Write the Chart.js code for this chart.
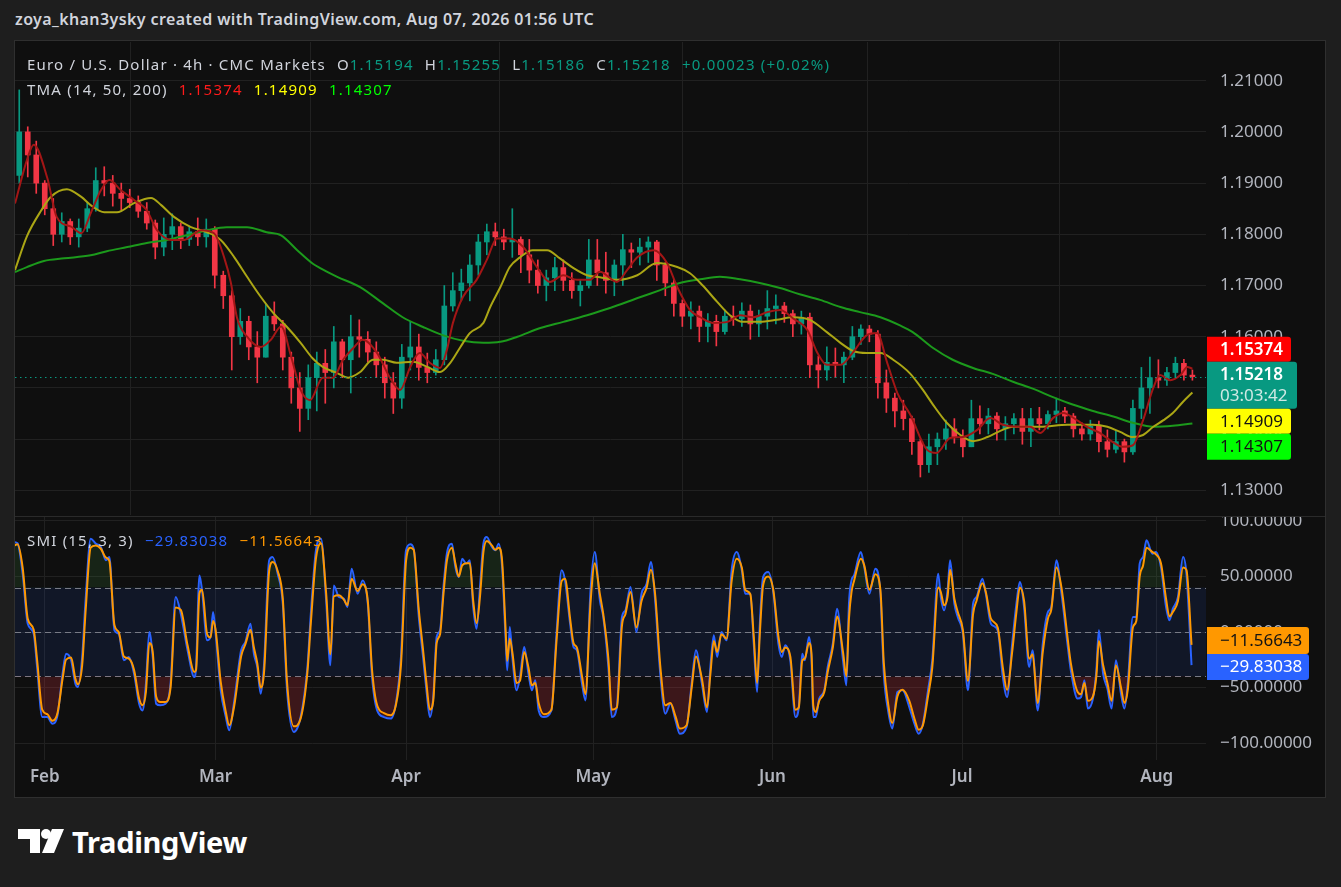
<!DOCTYPE html>
<html lang="en">

<head>
  <meta charset="UTF-8">
  <title>EURUSD 4h | TMA + SMI</title>
  <script src="https://cdn.jsdelivr.net/npm/chart.js"></script>
  <style>
    body { margin: 0; width: 1341px; height: 887px; background: #1e1e1e; overflow: hidden; font-family: "Noto Sans", sans-serif; position: relative; }
    .titulo { position: absolute; left: 15px; top: 8px; color: #d1d4dc; font-size: 16px; font-weight: 600; letter-spacing: 0.4px; white-space: nowrap; }
    #painel { position: absolute; left: 14px; top: 40px; width: 1310px; height: 756px; border: 1px solid #2f2f2f; background: #0f0f0f; }
    #painel canvas { position: absolute; left: 0; }
    #c_preco { top: 0; }
    #c_smi { top: 476px; }
    .divisor { position: absolute; left: 0; top: 475px; width: 1310px; height: 1px; background: #2a2a2a; }
    .legenda { position: absolute; left: 12px; color: #d1d4dc; font-size: 15px; letter-spacing: 1.2px; line-height: 22px; white-space: nowrap; z-index: 2; }
    .legenda .v { margin-left: 6px; }
    .verde { color: #089981; }
    .logo { position: absolute; left: 18px; top: 826px; }
    .logo_texto { position: absolute; left: 72px; top: 822px; color: #ffffff; font-size: 29px; font-weight: 700; letter-spacing: -0.3px; }
  </style>
</head>

<body>
  <div class="titulo">zoya_khan3ysky created with TradingView.com, Aug 07, 2026 01:56 UTC</div>

  <div id="painel">
    <canvas id="c_preco" width="1310" height="475"></canvas>
    <div class="divisor"></div>
    <canvas id="c_smi" width="1310" height="280"></canvas>

    <div class="legenda" style="top:12px">Euro / U.S. Dollar · 4h · CMC Markets
      <span class="v">O<span class="verde">1.15194</span></span>
      <span class="v">H<span class="verde">1.15255</span></span>
      <span class="v">L<span class="verde">1.15186</span></span>
      <span class="v">C<span class="verde">1.15218</span></span>
      <span class="v verde">+0.00023 (+0.02%)</span>
    </div>
    <div class="legenda" style="top:37px">TMA (14, 50, 200)
      <span class="v" style="color:#ff1a1a">1.15374</span>
      <span class="v" style="color:#ffff00">1.14909</span>
      <span class="v" style="color:#00ff00">1.14307</span>
    </div>
    <div class="legenda" style="top:488px">SMI (15, 3, 3)
      <span class="v" style="color:#2962ff">−29.83038</span>
      <span class="v" style="color:#ff9800">−11.56643</span>
    </div>
  </div>

  <svg class="logo" width="48" height="30" viewBox="0 0 48 30">
    <polygon points="0,3 22,3 22,27 12,27 12,13 0,13" fill="#ffffff"/>
    <circle cx="28" cy="8" r="5" fill="#ffffff"/>
    <polygon points="34,3 46,3 36,27 24,27" fill="#ffffff"/>
  </svg>
  <div class="logo_texto">TradingView</div>

<script>
// candles: um candle por dia util (x = indice do dia)
const aberturas = [
  1.1915, 1.2000, 1.1955, 1.1900, 1.1850, 1.1800, 1.1825, 1.1795, 1.1812, 1.1850,
  1.1905, 1.1900, 1.1880, 1.1870, 1.1862, 1.1845, 1.1822, 1.1775, 1.1800, 1.1815,
  1.1790, 1.1805, 1.1795, 1.1810, 1.1720, 1.1680, 1.1600, 1.1630, 1.1580, 1.1560,
  1.1640, 1.1625, 1.1560, 1.1500, 1.1460, 1.1520, 1.1548, 1.1530, 1.1590, 1.1555,
  1.1600, 1.1595, 1.1570, 1.1545, 1.1510, 1.1480, 1.1560, 1.1580, 1.1540, 1.1530,
  1.1555, 1.1660, 1.1690, 1.1705, 1.1740, 1.1785, 1.1805, 1.1795, 1.1785, 1.1790,
  1.1760, 1.1730, 1.1700, 1.1715, 1.1735, 1.1710, 1.1690, 1.1700, 1.1750, 1.1725,
  1.1710, 1.1740, 1.1770, 1.1765, 1.1775, 1.1785, 1.1740, 1.1705, 1.1665, 1.1640,
  1.1650, 1.1620, 1.1630, 1.1610, 1.1640, 1.1635, 1.1650, 1.1625, 1.1640, 1.1655,
  1.1660, 1.1645, 1.1625, 1.1638, 1.1545, 1.1535, 1.1550, 1.1545, 1.1560, 1.1600,
  1.1615, 1.1605, 1.1510, 1.1480, 1.1455, 1.1440, 1.1395, 1.1350, 1.1385, 1.1400,
  1.1420, 1.1405, 1.1385, 1.1440, 1.1430, 1.1445, 1.1420, 1.1430, 1.1440, 1.1415,
  1.1440, 1.1430, 1.1448, 1.1455, 1.1445, 1.1420, 1.1410, 1.1425, 1.1395, 1.1380,
  1.1395, 1.1375, 1.1460, 1.1500, 1.1520, 1.1515, 1.1530, 1.1548, 1.1525
];
const maximas = [
  1.2082, 1.2010, 1.1982, 1.1905, 1.1870, 1.1842, 1.1830, 1.1830, 1.1862, 1.1930,
  1.1932, 1.1915, 1.1900, 1.1888, 1.1875, 1.1862, 1.1828, 1.1832, 1.1840, 1.1822,
  1.1815, 1.1832, 1.1830, 1.1815, 1.1728, 1.1690, 1.1655, 1.1640, 1.1610, 1.1665,
  1.1668, 1.1632, 1.1570, 1.1530, 1.1545, 1.1570, 1.1575, 1.1620, 1.1595, 1.1642,
  1.1633, 1.1610, 1.1590, 1.1560, 1.1530, 1.1585, 1.1630, 1.1605, 1.1568, 1.1575,
  1.1700, 1.1725, 1.1732, 1.1760, 1.1800, 1.1820, 1.1822, 1.1810, 1.1850, 1.1795,
  1.1790, 1.1750, 1.1730, 1.1755, 1.1750, 1.1725, 1.1712, 1.1790, 1.1790, 1.1765,
  1.1750, 1.1800, 1.1783, 1.1792, 1.1795, 1.1788, 1.1745, 1.1712, 1.1672, 1.1668,
  1.1660, 1.1645, 1.1642, 1.1652, 1.1660, 1.1666, 1.1662, 1.1652, 1.1690, 1.1682,
  1.1667, 1.1652, 1.1650, 1.1646, 1.1562, 1.1580, 1.1578, 1.1570, 1.1620, 1.1623,
  1.1622, 1.1612, 1.1535, 1.1490, 1.1476, 1.1445, 1.1400, 1.1410, 1.1412, 1.1437,
  1.1440, 1.1418, 1.1476, 1.1465, 1.1460, 1.1452, 1.1444, 1.1450, 1.1460, 1.1460,
  1.1462, 1.1455, 1.1480, 1.1462, 1.1450, 1.1432, 1.1437, 1.1435, 1.1418, 1.1415,
  1.1400, 1.1476, 1.1540, 1.1560, 1.1555, 1.1540, 1.1560, 1.1556, 1.1535
];
const minimas = [
  1.1900, 1.1912, 1.1880, 1.1838, 1.1778, 1.1785, 1.1780, 1.1775, 1.1805, 1.1845,
  1.1875, 1.1855, 1.1848, 1.1852, 1.1833, 1.1810, 1.1752, 1.1758, 1.1770, 1.1772,
  1.1778, 1.1778, 1.1775, 1.1695, 1.1655, 1.1535, 1.1585, 1.1555, 1.1510, 1.1560,
  1.1612, 1.1535, 1.1470, 1.1415, 1.1438, 1.1455, 1.1470, 1.1500, 1.1520, 1.1490,
  1.1560, 1.1550, 1.1520, 1.1480, 1.1450, 1.1460, 1.1535, 1.1515, 1.1510, 1.1525,
  1.1545, 1.1650, 1.1670, 1.1670, 1.1720, 1.1760, 1.1778, 1.1770, 1.1755, 1.1725,
  1.1705, 1.1685, 1.1670, 1.1690, 1.1690, 1.1675, 1.1660, 1.1695, 1.1700, 1.1685,
  1.1680, 1.1700, 1.1735, 1.1740, 1.1745, 1.1710, 1.1680, 1.1640, 1.1620, 1.1615,
  1.1590, 1.1590, 1.1582, 1.1605, 1.1622, 1.1620, 1.1595, 1.1600, 1.1615, 1.1625,
  1.1628, 1.1600, 1.1605, 1.1520, 1.1500, 1.1515, 1.1520, 1.1510, 1.1555, 1.1585,
  1.1590, 1.1480, 1.1452, 1.1424, 1.1418, 1.1370, 1.1326, 1.1335, 1.1350, 1.1380,
  1.1392, 1.1365, 1.1385, 1.1410, 1.1410, 1.1398, 1.1398, 1.1410, 1.1390, 1.1385,
  1.1418, 1.1420, 1.1432, 1.1432, 1.1404, 1.1398, 1.1398, 1.1375, 1.1365, 1.1373,
  1.1355, 1.1370, 1.1440, 1.1450, 1.1500, 1.1505, 1.1520, 1.1515, 1.1515
];
const fechamentos = [
  1.2000, 1.1955, 1.1900, 1.1850, 1.1800, 1.1825, 1.1795, 1.1812, 1.1850, 1.1905,
  1.1900, 1.1880, 1.1870, 1.1862, 1.1845, 1.1822, 1.1775, 1.1800, 1.1815, 1.1790,
  1.1805, 1.1795, 1.1810, 1.1720, 1.1680, 1.1600, 1.1630, 1.1580, 1.1560, 1.1640,
  1.1625, 1.1560, 1.1500, 1.1460, 1.1520, 1.1548, 1.1530, 1.1590, 1.1555, 1.1600,
  1.1595, 1.1570, 1.1545, 1.1510, 1.1480, 1.1560, 1.1580, 1.1540, 1.1530, 1.1555,
  1.1660, 1.1690, 1.1705, 1.1740, 1.1785, 1.1805, 1.1795, 1.1785, 1.1790, 1.1760,
  1.1730, 1.1700, 1.1715, 1.1735, 1.1710, 1.1690, 1.1700, 1.1750, 1.1725, 1.1710,
  1.1740, 1.1770, 1.1765, 1.1775, 1.1785, 1.1740, 1.1705, 1.1665, 1.1640, 1.1650,
  1.1620, 1.1630, 1.1610, 1.1640, 1.1635, 1.1650, 1.1625, 1.1640, 1.1655, 1.1660,
  1.1645, 1.1625, 1.1638, 1.1545, 1.1535, 1.1550, 1.1545, 1.1560, 1.1600, 1.1615,
  1.1605, 1.1510, 1.1480, 1.1455, 1.1440, 1.1395, 1.1350, 1.1385, 1.1400, 1.1420,
  1.1405, 1.1385, 1.1440, 1.1430, 1.1445, 1.1420, 1.1430, 1.1440, 1.1415, 1.1440,
  1.1430, 1.1448, 1.1455, 1.1445, 1.1420, 1.1410, 1.1425, 1.1395, 1.1380, 1.1395,
  1.1375, 1.1460, 1.1500, 1.1520, 1.1515, 1.1530, 1.1548, 1.1525, 1.15218
];

// medias TMA: [dia, valor]
const tmaRapida = [
  [-0.5, 1.1860], [0.9, 1.1945], [1.7, 1.1975], [3.3, 1.1910], [4.4, 1.1834], [6.1, 1.1815], [7.3, 1.1802],
  [8.4, 1.1841], [9.6, 1.1886], [10.6, 1.1906], [11.9, 1.1887], [13.5, 1.1867], [15.0, 1.1847], [16.2, 1.1808],
  [17.9, 1.1789], [19.4, 1.1789], [21.4, 1.1808], [22.9, 1.1802], [24.1, 1.1755], [24.9, 1.1705], [25.6, 1.1638],
  [26.8, 1.1600], [28.4, 1.1580], [29.6, 1.1594], [30.8, 1.1620], [32.0, 1.1560], [33.1, 1.1496], [34.2, 1.1476],
  [35.7, 1.1520], [36.9, 1.1520], [38.1, 1.1555], [39.3, 1.1578], [40.4, 1.1594], [42.1, 1.1568], [43.6, 1.1520],
  [44.8, 1.1496], [46.0, 1.1541], [47.1, 1.1568], [48.3, 1.1549], [49.5, 1.1539], [50.3, 1.1574], [51.0, 1.1626],
  [52.2, 1.1678], [53.8, 1.1711], [55.0, 1.1750], [56.2, 1.1792], [57.7, 1.1792], [59.3, 1.1775], [60.9, 1.1736],
  [62.4, 1.1707], [64.0, 1.1720], [65.6, 1.1711], [67.1, 1.1711], [68.3, 1.1727], [70.3, 1.1707], [71.5, 1.1730],
  [72.7, 1.1755], [74.6, 1.1769], [76.2, 1.1744], [77.4, 1.1697], [78.9, 1.1652], [80.1, 1.1638], [81.6, 1.1627],
  [83.3, 1.1629], [84.8, 1.1642], [86.3, 1.1638], [88.0, 1.1648], [89.5, 1.1652], [91.0, 1.1636], [92.7, 1.1613],
  [93.9, 1.1568], [95.0, 1.1545], [96.6, 1.1545], [98.1, 1.1570], [99.7, 1.1603], [100.9, 1.1607], [102.1, 1.1549],
  [103.3, 1.1490], [104.8, 1.1448], [106.8, 1.1379], [107.9, 1.1373], [109.5, 1.1402], [111.0, 1.1404], [112.7, 1.1418],
  [114.2, 1.1441], [115.7, 1.1428], [117.4, 1.1424], [118.9, 1.1424], [120.1, 1.1412], [121.6, 1.1441], [122.8, 1.1451],
  [124.4, 1.1437], [125.6, 1.1424], [127.1, 1.1412], [128.3, 1.1398], [129.8, 1.1385], [131.0, 1.1388], [132.2, 1.1437],
  [133.4, 1.1500], [134.2, 1.1525], [135.4, 1.1515], [136.6, 1.1525], [137.4, 1.1541], [138.0, 1.15374]
];
const tmaMedia = [
  [-0.5, 1.1730], [0.9, 1.1796], [2.6, 1.1847], [3.7, 1.1873], [5.6, 1.1888], [7.3, 1.1873], [8.4, 1.1857],
  [10.0, 1.1843], [11.5, 1.1843], [13.5, 1.1861], [15.5, 1.1871], [16.7, 1.1857], [18.2, 1.1834], [20.2, 1.1814],
  [22.1, 1.1804], [23.7, 1.1789], [25.3, 1.1755], [26.8, 1.1717], [28.4, 1.1678], [29.9, 1.1646], [31.5, 1.1619],
  [33.1, 1.1588], [34.5, 1.1558], [35.7, 1.1541], [37.4, 1.1529], [38.7, 1.1520], [40.1, 1.1531], [41.6, 1.1555],
  [42.8, 1.1555], [44.4, 1.1549], [46.3, 1.1551], [48.0, 1.1541], [49.5, 1.1531], [50.7, 1.1549], [51.9, 1.1580],
  [53.0, 1.1607], [54.6, 1.1627], [55.4, 1.1658], [56.6, 1.1697], [57.7, 1.1736], [58.9, 1.1755], [60.4, 1.1769],
  [62.1, 1.1769], [63.6, 1.1753], [65.2, 1.1734], [66.8, 1.1720], [68.3, 1.1716], [70.3, 1.1711], [72.7, 1.1720],
  [75.0, 1.1744], [77.4, 1.1736], [78.9, 1.1724], [80.4, 1.1700], [82.1, 1.1668], [83.6, 1.1642], [85.1, 1.1629],
  [87.1, 1.1629], [89.1, 1.1633], [91.0, 1.1638], [93.0, 1.1633], [95.0, 1.1609], [96.6, 1.1588], [98.1, 1.1572],
  [99.7, 1.1568], [101.3, 1.1568], [102.8, 1.1555], [104.8, 1.1528], [106.3, 1.1496], [107.5, 1.1467], [109.1, 1.1432],
  [110.7, 1.1408], [112.2, 1.1396], [113.9, 1.1404], [115.4, 1.1416], [116.9, 1.1424], [120.1, 1.1424], [123.3, 1.1428],
  [126.3, 1.1428], [128.0, 1.1424], [129.5, 1.1414], [131.0, 1.1404], [132.2, 1.1408], [133.4, 1.1424], [134.6, 1.1437],
  [135.7, 1.1451], [136.9, 1.1473], [138.0, 1.14909]
];
const tmaLonga = [
  [-0.5, 1.1726], [0.9, 1.1736], [2.9, 1.1748], [5.3, 1.1753], [8.4, 1.1759], [10.3, 1.1767], [12.7, 1.1775],
  [15.0, 1.1783], [17.4, 1.1789], [19.7, 1.1798], [22.1, 1.1808], [24.4, 1.1814], [26.8, 1.1814], [29.1, 1.1804],
  [30.8, 1.1798], [32.7, 1.1769], [34.5, 1.1743], [35.4, 1.1734], [37.4, 1.1717], [40.1, 1.1697], [42.8, 1.1665],
  [45.1, 1.1638], [47.5, 1.1619], [49.8, 1.1603], [52.2, 1.1592], [54.6, 1.1588], [56.6, 1.1590], [58.6, 1.1600],
  [61.3, 1.1617], [64.0, 1.1629], [66.8, 1.1642], [69.5, 1.1656], [73.0, 1.1677], [75.4, 1.1691], [77.7, 1.1705],
  [80.1, 1.1712], [82.4, 1.1717], [84.8, 1.1712], [87.1, 1.1705], [89.5, 1.1695], [91.8, 1.1683], [94.2, 1.1672],
  [96.6, 1.1658], [98.9, 1.1648], [101.3, 1.1638], [103.6, 1.1622], [105.1, 1.1609], [107.5, 1.1578], [109.8, 1.1555],
  [112.2, 1.1539], [114.6, 1.1527], [116.9, 1.1512], [119.3, 1.1498], [121.6, 1.1482], [124.0, 1.1467], [126.3, 1.1455],
  [128.7, 1.1444], [131.0, 1.1432], [133.4, 1.1424], [135.7, 1.1426], [138.0, 1.14307]
];

// SMI (linha azul) e sinal (laranja): [dia, valor]
const smiLinha = [
  [-0.6, 81], [-0.2, 80], [0.4, 52.5], [1.0, 7.5], [1.7, -1.5], [2.1, -31.5], [2.7, -76.6], [3.3, -76.6], [3.9, -82.6],
  [4.5, -75], [5.1, -37.5], [5.5, -19.5], [6.1, -25.5], [6.6, -46.5], [6.9, -49.5], [7.4, -22.5], [7.8, 28.5], [8.4, 84],
  [9.0, 79.6], [9.6, 76.6], [10.2, 64.6], [10.6, 67.6], [11.2, 1.5], [11.7, -1.5], [12.3, -25.5], [12.9, -22.5],
  [13.5, -37.5], [14.1, -64.6], [14.5, -70.6], [14.9, -46.5], [15.3, 0], [15.7, -22.5], [16.1, -64.6], [16.6, -66],
  [17.2, -64.6], [17.8, -46.5], [18.4, 31.5], [19.0, 16.5], [19.8, -16.5], [20.6, -40.5], [20.8, -31.5], [21.2, 51],
  [21.5, 37.5], [22.1, -7.5], [22.5, -4.5], [22.8, 18], [23.1, -1.5], [23.7, -52.5], [24.3, -76.6], [24.7, -88.6],
  [25.3, -61.6], [26.1, -16.5], [26.6, -9], [27.2, 7.5], [27.6, -19.5], [28.0, -31.5], [28.4, -55.6], [28.8, -28.5],
  [29.4, 64.6], [29.8, 67.6], [30.4, 52.5], [31.0, 25.5], [31.5, -52.5], [32.3, -90], [33.1, -76.6], [33.9, -31.5],
  [34.3, 16.5], [34.9, 73.6], [35.5, 84], [36.1, 28.5], [36.6, -30], [37.0, 42], [37.6, 31.5], [38.2, 30], [38.6, 22.5],
  [39.1, 57], [39.8, 34.5], [40.4, 46.5], [41.0, 25.5], [41.5, -40.5], [42.1, -70.6], [42.9, -76.6], [43.7, -78],
  [44.3, -64.6], [44.9, -22.5], [45.5, 73.6], [46.0, 79], [46.4, 75], [47.0, 13.5], [47.5, -22.5], [47.9, -52.5],
  [48.3, -76.6], [48.7, -58.6], [49.1, -4.5], [49.5, 1.5], [49.9, 40.5], [50.3, 70.6], [50.9, 79.6], [51.3, 58.6],
  [51.7, 49.5], [52.1, 66], [52.6, 61.6], [53.0, 64.6], [53.4, 22.5], [53.8, 3], [54.2, 40.5], [54.6, 79.6], [55.0, 85.6],
  [55.6, 76.6], [56.0, 73.6], [56.4, 79.6], [56.8, 58.6], [57.2, -4.5], [57.4, -34.5], [57.7, 4.5], [58.0, -22.5],
  [58.5, -52.5], [58.9, -40.5], [59.4, -13.5], [59.9, -37.5], [60.3, -52.5], [60.7, -43.5], [61.1, -70.6], [61.7, -76.6],
  [62.6, -70.6], [63.2, -1.5], [63.8, 55.6], [64.2, 46.5], [64.8, 7.5], [65.2, -13.5], [65.6, -16.5], [66.2, -46.5],
  [66.6, -61.6], [67.2, 37.5], [67.7, 72], [68.3, 28.5], [68.7, 13.5], [69.3, -31.5], [69.7, -76.6], [70.3, -67.6],
  [70.9, 13.5], [71.3, 19.5], [71.9, 40.5], [72.6, 0], [73.2, 34.5], [73.8, 43.5], [74.3, 63], [74.8, 28.5], [75.4, -37.5],
  [76.0, -73.6], [76.6, -64.6], [77.2, -79.6], [77.7, -91.6], [78.5, -85.6], [79.1, -46.5], [79.6, -16.5], [80.3, -46.5],
  [80.9, -72], [81.3, -31.5], [81.7, -3], [82.1, -22.5], [82.6, 0], [83.2, -7.5], [83.8, 55.6], [84.4, 72], [85.0, 55.6],
  [85.4, 34.5], [86.0, 34.5], [86.4, -10.5], [86.8, -54], [87.1, 4.5], [87.5, 49.5], [88.1, 54], [88.7, 36], [89.3, -10.5],
  [89.7, -22.5], [90.1, -12], [90.7, -25.5], [91.3, -76.6], [91.7, -67.6], [92.1, -19.5], [92.4, -25.5], [92.9, -4.5],
  [93.2, -25.5], [93.4, -76.6], [93.7, -76.6], [94.1, -60], [94.7, -52.5], [95.1, -31.5], [95.7, -10.5], [96.2, 21],
  [96.9, -25.5], [97.3, -48], [97.6, 25.5], [97.9, 46.5], [98.2, 51], [99.0, 72], [99.4, 58.6], [100.0, 34.5], [100.7, 57],
  [101.3, 34.5], [101.7, -37.5], [102.2, -70.6], [102.7, -87], [103.3, -54], [103.9, -52.5], [104.7, -67.6], [105.3, -82.6],
  [105.8, -91.6], [106.3, -82.6], [106.9, -52.5], [107.4, -25.5], [108.1, 52.5], [108.4, 31.5], [108.8, 19.5], [109.2, 37.5],
  [109.5, 64.6], [110.0, 25.5], [110.4, 13.5], [111.0, -1.5], [111.6, -52.5], [112.2, 25.5], [112.6, 31.5], [113.3, 48],
  [113.7, 34.5], [114.3, 7.5], [115.1, 1.5], [115.7, -40.5], [116.2, -58.6], [116.8, -10.5], [117.3, 25.5], [117.7, 45],
  [118.2, 22.5], [118.8, -31.5], [119.2, -16.5], [119.8, -70.6], [120.4, -10.5], [121.0, 18], [121.4, 22.5], [122.0, 64.6],
  [122.6, 34.5], [123.3, -10.5], [123.7, -34.5], [124.5, -60], [124.9, -58.6], [125.3, -43.5], [125.7, -69], [126.3, -60],
  [126.7, -34.5], [127.0, 1.5], [127.5, -37.5], [128.0, -51], [128.5, -69], [129.0, -25.5], [129.6, -55.6], [130.0, -69],
  [130.4, -46.5], [131.0, 13.5], [131.4, 13.5], [131.8, 61.6], [132.2, 67.6], [132.6, 82.6], [133.3, 70.6], [133.7, 72],
  [134.3, 58.6], [134.9, 22.5], [135.3, 10.5], [135.7, 21], [136.3, 31.5], [136.9, 67.6], [137.3, 52.5], [137.9, -29.83038]
];
const smiSinal = [
  [-0.6, 78], [-0.2, 79], [0.4, 58], [1.0, 12], [1.7, 2], [2.1, -25], [2.7, -70], [3.3, -74], [3.9, -80], [4.5, -73],
  [5.1, -42], [5.5, -25], [6.1, -23], [6.6, -42], [6.9, -47], [7.4, -30], [7.8, 18], [8.4, 76], [9.0, 78], [9.6, 75],
  [10.2, 67], [10.6, 64], [11.2, 6], [11.7, 0], [12.3, -22], [12.9, -24], [13.5, -34], [14.1, -60], [14.5, -66],
  [14.9, -54], [15.3, -10], [15.7, -18], [16.1, -58], [16.6, -63], [17.2, -63], [17.8, -50], [18.4, 22], [19.0, 20],
  [19.8, -12], [20.6, -36], [20.8, -34], [21.2, 35], [21.5, 38], [22.1, -2], [22.5, -5], [22.8, 10], [23.1, 2],
  [23.7, -45], [24.3, -72], [24.7, -84], [25.3, -66], [26.1, -22], [26.6, -11], [27.2, 2], [27.6, -14], [28.0, -28],
  [28.4, -50], [28.8, -36], [29.4, 55], [29.8, 63], [30.4, 55], [31.0, 30], [31.5, -45], [32.3, -85], [33.1, -78],
  [33.9, -36], [34.3, 8], [34.9, 66], [35.5, 80], [36.1, 35], [36.6, -20], [37.0, 32], [37.6, 33], [38.2, 29], [38.6, 24],
  [39.1, 48], [39.8, 37], [40.4, 43], [41.0, 28], [41.5, -34], [42.1, -66], [42.9, -73], [43.7, -75], [44.3, -66],
  [44.9, -30], [45.5, 64], [46.0, 76], [46.4, 74], [47.0, 20], [47.5, -16], [47.9, -46], [48.3, -70], [48.7, -62],
  [49.1, -10], [49.5, -2], [49.9, 34], [50.3, 64], [50.9, 76], [51.3, 62], [51.7, 50], [52.1, 60], [52.6, 62], [53.0, 62],
  [53.4, 28], [53.8, 8], [54.2, 32], [54.6, 72], [55.0, 82], [55.6, 78], [56.0, 74], [56.4, 76], [56.8, 64], [57.2, 4],
  [57.4, -26], [57.7, -6], [58.0, -18], [58.5, -46], [58.9, -44], [59.4, -18], [59.9, -32], [60.3, -48], [60.7, -46],
  [61.1, -64], [61.7, -74], [62.6, -70], [63.2, -8], [63.8, 46], [64.2, 48], [64.8, 12], [65.2, -10], [65.6, -14],
  [66.2, -40], [66.6, -56], [67.2, 26], [67.7, 62], [68.3, 34], [68.7, 16], [69.3, -24], [69.7, -70], [70.3, -68],
  [70.9, 6], [71.3, 16], [71.9, 36], [72.6, 4], [73.2, 28], [73.8, 40], [74.3, 56], [74.8, 34], [75.4, -30], [76.0, -66],
  [76.6, -64], [77.2, -76], [77.7, -87], [78.5, -84], [79.1, -50], [79.6, -22], [80.3, -42], [80.9, -68], [81.3, -38],
  [81.7, -8], [82.1, -18], [82.6, -2], [83.2, -6], [83.8, 46], [84.4, 66], [85.0, 58], [85.4, 38], [86.0, 34], [86.4, -4],
  [86.8, -46], [87.1, -4], [87.5, 42], [88.1, 50], [88.7, 38], [89.3, -4], [89.7, -18], [90.1, -14], [90.7, -22],
  [91.3, -70], [91.7, -68], [92.1, -26], [92.4, -24], [92.9, -10], [93.2, -20], [93.4, -66], [93.7, -72], [94.1, -62],
  [94.7, -54], [95.1, -36], [95.7, -14], [96.2, 14], [96.9, -18], [97.3, -40], [97.6, 12], [97.9, 36], [98.2, 46],
  [99.0, 66], [99.4, 60], [100.0, 38], [100.7, 52], [101.3, 38], [101.7, -28], [102.2, -64], [102.7, -82], [103.3, -58],
  [103.9, -52], [104.7, -62], [105.3, -78], [105.8, -88], [106.3, -84], [106.9, -58], [107.4, -32], [108.1, 40],
  [108.4, 36], [108.8, 24], [109.2, 32], [109.5, 56], [110.0, 30], [110.4, 18], [111.0, 2], [111.6, -44], [112.2, 16],
  [112.6, 28], [113.3, 44], [113.7, 36], [114.3, 12], [115.1, 4], [115.7, -32], [116.2, -52], [116.8, -18], [117.3, 18],
  [117.7, 40], [118.2, 28], [118.8, -24], [119.2, -20], [119.8, -64], [120.4, -18], [121.0, 12], [121.4, 20], [122.0, 58],
  [122.6, 40], [123.3, -4], [123.7, -28], [124.5, -54], [124.9, -56], [125.3, -46], [125.7, -62], [126.3, -58],
  [126.7, -40], [127.0, -8], [127.5, -30], [128.0, -46], [128.5, -62], [129.0, -30], [129.6, -50], [130.0, -64],
  [130.4, -52], [131.0, 4], [131.4, 10], [131.8, 50], [132.2, 60], [132.6, 76], [133.3, 72], [133.7, 70], [134.3, 62],
  [134.9, 30], [135.3, 14], [135.7, 18], [136.3, 28], [136.9, 58], [137.3, 56], [137.9, -11.56643]
];

const mesesNomes = ['Feb', 'Mar', 'Apr', 'May', 'Jun', 'Jul', 'Aug'];
const mesesDias = [3, 23.1, 45.5, 67.5, 88.6, 110.9, 133.8];
const precoTicks = [1.13, 1.14, 1.15, 1.16, 1.17, 1.18, 1.19, 1.20, 1.21];
const smiTicks = [100, 50, 0, -50, -100];
const smiNiveis = [40, 0, -40];

const precoAtual = 1.15218;
const tempoRestante = '03:03:42';
const ultRapida = 1.15374;
const ultMedia = 1.14909;
const ultLonga = 1.14307;
const ultSmi = -29.83038;
const ultSinal = -11.56643;

// ---------------------------------------------------------------
const corAlta = '#089981';
const corBaixa = '#f23645';
const corGrade = '#212121';
const corTexto = '#b2b5be';
const fonteEixo = { family: 'Noto Sans', size: 17 };

const pares = arr => arr.map(p => ({ x: p[0], y: p[1] }));
const pavios = aberturas.map((a, i) => ({ x: i, y: [minimas[i], maximas[i]] }));
const corpos = aberturas.map((a, i) => ({ x: i, y: [a, fechamentos[i]] }));
const coresCandle = aberturas.map((a, i) => fechamentos[i] >= a ? corAlta : corBaixa);

const menos = v => (v < 0 ? '−' : '') + Math.abs(v).toFixed(5);

// tira o espaco extra que o chart.js reserva pros rotulos nas pontas
function semSobra(s) {
  s.paddingTop = 0; s.paddingBottom = 0; s.paddingLeft = 0; s.paddingRight = 0;
}

function eixoX(mostrar) {
  return {
    type: 'linear', min: -0.5, max: 139.6, offset: false,
    afterBuildTicks: s => { s.ticks = mesesDias.map(v => ({ value: v })); },
    afterFit: s => { s.height = mostrar ? 37 : 0; semSobra(s); },
    grid: { color: corGrade, drawTicks: false },
    border: { display: false },
    ticks: {
      display: mostrar, color: corTexto, padding: 7, font: { family: 'Noto Sans', size: 17, weight: '600' },
      maxRotation: 0, autoSkip: false,
      callback: v => mesesNomes[mesesDias.indexOf(v)]
    }
  };
}

function caixa(ctx, x, y, w, h, fundo) {
  ctx.fillStyle = fundo;
  ctx.beginPath();
  ctx.roundRect(x, y, w, h, [0, 3, 3, 0]);
  ctx.fill();
}

function texto(ctx, t, x, y, cor, peso) {
  ctx.fillStyle = cor;
  ctx.font = (peso || '400') + ' 17px "Noto Sans"';
  ctx.textAlign = 'left';
  ctx.textBaseline = 'middle';
  ctx.fillText(t, x, y);
}

const precoPlugin = {
  id: 'precoPlugin',
  afterDatasetsDraw(chart) {
    const { ctx, chartArea, scales: { y } } = chart;
    const py = Math.round(y.getPixelForValue(precoAtual)) + 0.5;
    ctx.save();
    ctx.strokeStyle = corAlta;
    ctx.lineWidth = 1;
    ctx.setLineDash([1.5, 3.5]);
    ctx.beginPath();
    ctx.moveTo(chartArea.left, py);
    ctx.lineTo(chartArea.right, py);
    ctx.stroke();
    ctx.restore();
  },
  afterDraw(chart) {
    const { ctx, chartArea, scales: { y } } = chart;
    const x0 = chartArea.right + 1;
    const tx = chartArea.right + 14;
    ctx.save();
    // caixa do preco atual fica no lugar; as outras se empilham em volta
    const topoAtual = y.getPixelForValue(precoAtual) - 15;
    const baseAtual = topoAtual + 47;
    const topoRapida = Math.min(y.getPixelForValue(ultRapida) - 12.5, topoAtual - 25);
    const topoMedia = Math.max(y.getPixelForValue(ultMedia) - 12.5, baseAtual);
    const topoLonga = Math.max(y.getPixelForValue(ultLonga) - 12.5, topoMedia + 25);

    caixa(ctx, x0, topoRapida, 84, 25, '#ff0000');
    texto(ctx, ultRapida.toFixed(5), tx, topoRapida + 13, '#ffffff', '600');

    caixa(ctx, x0, topoAtual, 90, 47, corAlta);
    texto(ctx, precoAtual.toFixed(5), tx, topoAtual + 13, '#ffffff', '600');
    texto(ctx, tempoRestante, tx, topoAtual + 34, '#cfe9e4');

    caixa(ctx, x0, topoMedia, 84, 25, '#ffff00');
    texto(ctx, ultMedia.toFixed(5), tx, topoMedia + 13, '#131313');

    caixa(ctx, x0, topoLonga, 84, 26, '#00ff00');
    texto(ctx, ultLonga.toFixed(5), tx, topoLonga + 13, '#131313');
    ctx.restore();
  }
};

const smiPlugin = {
  id: 'smiPlugin',
  beforeDatasetsDraw(chart) {
    const { ctx, chartArea, scales: { y } } = chart;
    const yTopo = y.getPixelForValue(40);
    const yBase = y.getPixelForValue(-40);
    ctx.save();
    ctx.fillStyle = 'rgba(41, 98, 255, 0.1)';
    ctx.fillRect(chartArea.left, yTopo, chartArea.right - chartArea.left, yBase - yTopo);
    ctx.strokeStyle = '#787b86';
    ctx.lineWidth = 1;
    ctx.setLineDash([6, 4]);
    smiNiveis.forEach(n => {
      const py = Math.round(y.getPixelForValue(n)) + 0.5;
      ctx.beginPath();
      ctx.moveTo(chartArea.left, py);
      ctx.lineTo(chartArea.right, py);
      ctx.stroke();
    });
    ctx.restore();
  },
  afterDraw(chart) {
    const { ctx, chartArea, scales: { y } } = chart;
    const x0 = chartArea.right + 1;
    const tx = chartArea.right + 14;
    ctx.save();
    const topoSmi = y.getPixelForValue(ultSmi) - 11;
    const topoSinal = Math.min(y.getPixelForValue(ultSinal) - 13.5, topoSmi - 27);
    caixa(ctx, x0, topoSinal, 102, 27, '#ff9800');
    texto(ctx, menos(ultSinal), tx, topoSinal + 14, '#131313');
    caixa(ctx, x0, topoSmi, 102, 26, '#2962ff');
    texto(ctx, menos(ultSmi), tx, topoSmi + 13, '#ffffff');
    ctx.restore();
  }
};

// grafico de preco
new Chart(document.getElementById('c_preco'), {
  type: 'bar',
  data: {
    datasets: [
      { type: 'line', label: 'TMA 14', data: pares(tmaRapida), borderColor: '#a31616', borderWidth: 2, pointRadius: 0, cubicInterpolationMode: 'monotone', order: 0 },
      { type: 'line', label: 'TMA 50', data: pares(tmaMedia), borderColor: '#aba615', borderWidth: 2, pointRadius: 0, cubicInterpolationMode: 'monotone', order: 0 },
      { type: 'line', label: 'TMA 200', data: pares(tmaLonga), borderColor: '#1c9a1c', borderWidth: 2, pointRadius: 0, cubicInterpolationMode: 'monotone', order: 0 },
      { label: 'corpo', data: corpos, backgroundColor: coresCandle, barThickness: 5, minBarLength: 1, grouped: false, order: 2 },
      { label: 'pavio', data: pavios, backgroundColor: coresCandle, barThickness: 1, grouped: false, order: 3 }
    ]
  },
  options: {
    responsive: false,
    animation: false,
    devicePixelRatio: 1,
    layout: { padding: { top: 1, bottom: 1, left: 0, right: 0 } },
    plugins: { legend: { display: false }, tooltip: { enabled: false } },
    scales: {
      x: eixoX(false),
      y: {
        position: 'right', min: 1.125176, max: 1.217559,
        afterBuildTicks: s => { s.ticks = precoTicks.map(v => ({ value: v })); },
        afterFit: s => { s.width = 119; semSobra(s); },
        grid: { color: corGrade, drawTicks: false },
        border: { display: false },
        ticks: { color: corTexto, padding: 14, font: fonteEixo, autoSkip: false, callback: v => v.toFixed(5) }
      }
    }
  },
  plugins: [precoPlugin]
});

// grafico SMI
new Chart(document.getElementById('c_smi'), {
  type: 'line',
  data: {
    datasets: [
      { label: 'sinal', data: pares(smiSinal), borderColor: '#ff9800', borderWidth: 2, pointRadius: 0, cubicInterpolationMode: 'monotone', order: 0 },
      {
        label: 'SMI', data: pares(smiLinha), borderColor: '#2962ff', borderWidth: 2, pointRadius: 0, cubicInterpolationMode: 'monotone', order: 1,
        fill: { target: { value: 40 }, above: 'rgba(76, 175, 80, 0.13)', below: 'rgba(0, 0, 0, 0)' }
      },
      {
        label: 'SMI fundo', data: pares(smiLinha), borderColor: 'rgba(0,0,0,0)', borderWidth: 0, pointRadius: 0, cubicInterpolationMode: 'monotone', order: 2,
        fill: { target: { value: -40 }, above: 'rgba(0, 0, 0, 0)', below: 'rgba(242, 54, 69, 0.2)' }
      }
    ]
  },
  options: {
    responsive: false,
    animation: false,
    devicePixelRatio: 1,
    layout: { padding: 0 },
    plugins: { legend: { display: false }, tooltip: { enabled: false } },
    scales: {
      x: eixoX(true),
      y: {
        position: 'right', min: -115.3, max: 103.6,
        afterBuildTicks: s => { s.ticks = smiTicks.map(v => ({ value: v })); },
        afterFit: s => { s.width = 119; semSobra(s); },
        grid: { color: corGrade, drawTicks: false },
        border: { display: false },
        ticks: { color: corTexto, padding: 14, font: fonteEixo, autoSkip: false, callback: v => menos(v) }
      }
    }
  },
  plugins: [smiPlugin]
});
</script>
</body>

</html>
